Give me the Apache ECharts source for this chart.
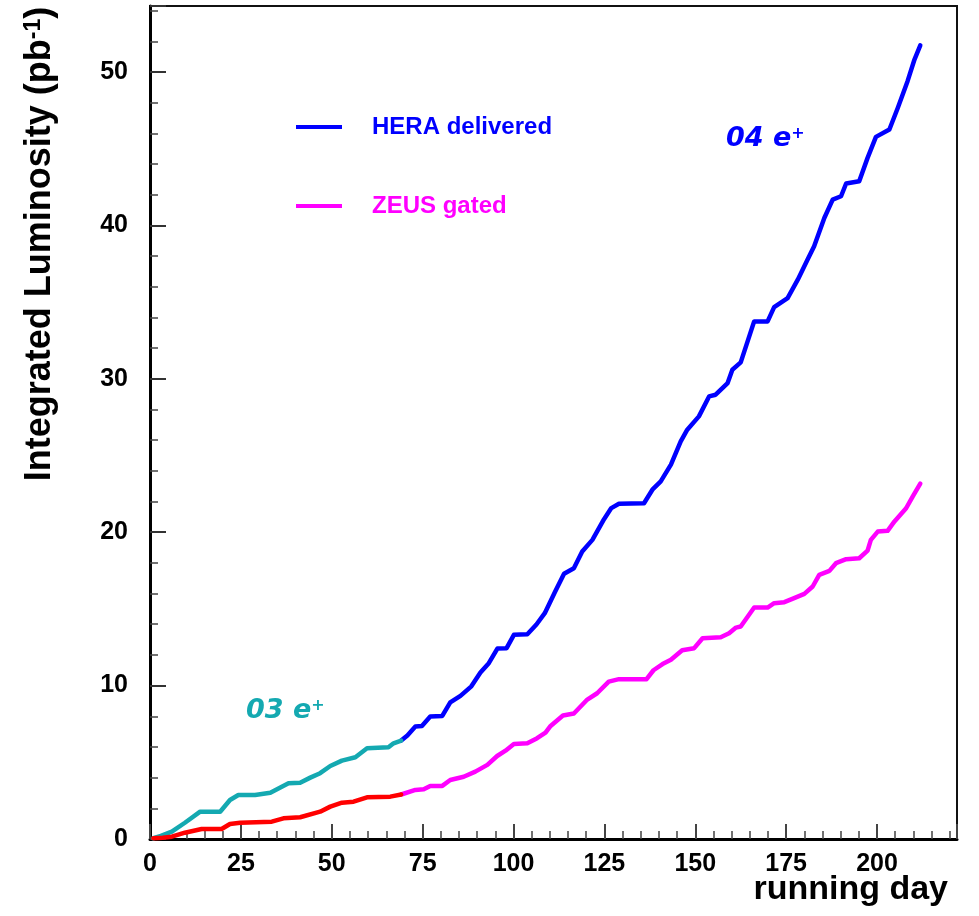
<!DOCTYPE html>
<html>
<head>
<meta charset="utf-8">
<title>Integrated Luminosity</title>
<script src="https://cdn.jsdelivr.net/npm/echarts@6/dist/echarts.min.js"></script>
<style>
  html, body { margin: 0; padding: 0; background: #fff; }
  #chart { width: 979px; height: 916px; }
</style>
</head>
<body>
<div id="chart"></div>
<script>
// HERA delivered luminosity, 2003 e+ running (days 0-69)
const heraDays03 = [0.9, 3.0, 6.0, 9.6, 13.8, 19.3, 22.0, 24.3, 28.9, 33.1, 38.1, 41.3, 44.1, 46.8, 49.6, 52.8, 56.5, 59.7, 65.6, 67.0, 69.1];
const hera03 = [0.05, 0.2, 0.48, 1.06, 1.78, 1.78, 2.54, 2.87, 2.87, 3.02, 3.63, 3.67, 4.0, 4.29, 4.76, 5.11, 5.33, 5.91, 5.98, 6.24, 6.42];

// HERA delivered luminosity, 2004 e+ running
const heraDays04 = [69.1, 70.8, 73.0, 74.8, 77.1, 80.4, 82.6, 85.4, 88.4, 90.9, 93.2, 95.6, 98.1, 100.1, 103.8, 106.3, 108.6, 111.4, 113.9, 116.6, 118.9, 121.7, 124.9, 126.9, 129.0, 135.9, 138.2, 140.5, 143.3, 146.0, 147.8, 151.0, 153.8, 155.6, 158.9, 160.2, 162.5, 166.2, 169.9, 171.7, 175.4, 178.2, 180.9, 182.7, 185.5, 187.8, 190.1, 191.5, 195.1, 197.4, 199.7, 203.4, 205.7, 208.4, 210.3, 211.9];
const hera04 = [6.42, 6.75, 7.33, 7.37, 7.98, 8.02, 8.9, 9.33, 9.95, 10.85, 11.46, 12.42, 12.44, 13.31, 13.35, 13.98, 14.72, 16.1, 17.29, 17.65, 18.74, 19.5, 20.85, 21.57, 21.85, 21.89, 22.77, 23.31, 24.4, 25.92, 26.68, 27.55, 28.85, 28.96, 29.72, 30.59, 31.07, 33.74, 33.74, 34.67, 35.26, 36.46, 37.77, 38.64, 40.48, 41.68, 41.9, 42.73, 42.88, 44.4, 45.77, 46.25, 47.65, 49.4, 50.81, 51.73];

// ZEUS gated luminosity, 2003 e+ running
const zeusDays03 = [0.9, 3.5, 6.0, 9.6, 14.2, 19.7, 22.0, 24.8, 33.5, 36.7, 41.3, 46.8, 49.6, 52.8, 56.0, 59.7, 66.1, 69.1];
const zeus03 = [0.05, 0.08, 0.15, 0.41, 0.65, 0.65, 0.98, 1.06, 1.13, 1.35, 1.42, 1.78, 2.11, 2.37, 2.43, 2.72, 2.76, 2.9];

// ZEUS gated luminosity, 2004 e+ running
const zeusDays04 = [69.1, 73.0, 75.3, 77.1, 80.4, 82.6, 86.3, 89.5, 92.8, 95.5, 97.8, 100.1, 103.8, 106.5, 108.8, 110.2, 113.6, 116.6, 120.3, 123.0, 126.2, 129.0, 136.6, 138.5, 141.0, 143.3, 146.4, 149.7, 152.0, 157.0, 159.3, 161.2, 162.5, 166.2, 169.9, 171.7, 174.5, 177.2, 180.0, 182.3, 184.1, 186.9, 188.7, 191.5, 195.1, 197.4, 198.3, 200.2, 202.9, 204.8, 208.0, 209.8, 211.9];
const zeus04 = [2.9, 3.2, 3.24, 3.46, 3.46, 3.85, 4.06, 4.39, 4.83, 5.41, 5.76, 6.2, 6.24, 6.57, 6.93, 7.37, 8.05, 8.18, 9.09, 9.5, 10.26, 10.42, 10.42, 11.0, 11.4, 11.68, 12.3, 12.44, 13.09, 13.15, 13.41, 13.78, 13.85, 15.09, 15.09, 15.37, 15.44, 15.7, 15.98, 16.46, 17.22, 17.48, 17.98, 18.24, 18.3, 18.8, 19.5, 20.04, 20.09, 20.7, 21.56, 22.32, 23.16];

const xTicks = { min: 0, max: 222, interval: 25 };
const yTicks = { min: 0, max: 54.3, interval: 10 };

const BLUE = '#0000ff';
const MAGENTA = '#ff00ff';
const RED = '#ff0000';
const TEAL = '#14a9b1';
const FONT = '"Liberation Sans", Arial, sans-serif';

const zip = (xs, ys) => xs.map((x, i) => [x, ys[i]]);

function lineSeries(name, days, values, color) {
  return {
    name: name,
    type: 'line',
    data: zip(days, values),
    symbol: 'none',
    smooth: false,
    color: color,
    lineStyle: { color: color, width: 4.5, join: 'round', cap: 'round' },
    z: 3,
    animation: false
  };
}

const chart = echarts.init(document.getElementById('chart'), null, { renderer: 'canvas' });

chart.setOption({
  animation: false,
  backgroundColor: '#fff',
  grid: {
    left: 150, right: 22, top: 6, bottom: 77,
    show: true, borderColor: '#111', borderWidth: 2, backgroundColor: 'transparent'
  },
  xAxis: {
    type: 'value',
    min: xTicks.min, max: xTicks.max, interval: xTicks.interval,
    axisLine: { show: true, onZero: false, lineStyle: { color: '#000', width: 3 } },
    axisTick: { show: true, inside: true, length: 15, lineStyle: { color: '#444', width: 2 } },
    minorTick: { show: true, splitNumber: 5, length: 8, lineStyle: { color: '#444', width: 1.5 } },
    splitLine: { show: false },
    axisLabel: {
      show: true, showMaxLabel: false, margin: 13,
      color: '#000', fontFamily: FONT, fontWeight: 'bold', fontSize: 25
    }
  },
  yAxis: {
    type: 'value',
    min: yTicks.min, max: yTicks.max, interval: yTicks.interval,
    axisLine: { show: true, onZero: false, lineStyle: { color: '#000', width: 3 } },
    axisTick: { show: true, inside: true, length: 16, lineStyle: { color: '#333', width: 2 } },
    minorTick: { show: true, splitNumber: 5, length: 8, lineStyle: { color: '#444', width: 1.5 } },
    splitLine: { show: false },
    axisLabel: {
      show: true, showMaxLabel: false, margin: 22,
      color: '#000', fontFamily: FONT, fontWeight: 'bold', fontSize: 25
    }
  },
  legend: {
    show: true,
    orient: 'vertical',
    left: 291, top: 110,
    icon: 'rect',
    itemWidth: 46, itemHeight: 4,
    itemGap: 55,
    selectedMode: false,
    textStyle: { fontFamily: FONT, fontWeight: 'bold', fontSize: 24, padding: [0, 0, 0, 25] },
    data: [
      { name: 'HERA delivered', textStyle: { color: BLUE } },
      { name: 'ZEUS gated', textStyle: { color: MAGENTA } }
    ]
  },
  series: [
    lineSeries('HERA delivered', heraDays04, hera04, BLUE),
    lineSeries('ZEUS gated', zeusDays04, zeus04, MAGENTA),
    lineSeries('HERA delivered 2003', heraDays03, hera03, TEAL),
    lineSeries('ZEUS gated 2003', zeusDays03, zeus03, RED)
  ],
  graphic: [
    {
      type: 'text',
      x: 40, y: 244,
      rotation: Math.PI / 2,
      style: {
        text: 'Integrated Luminosity (pb{sup|-1})',
        font: 'bold 36px ' + FONT,
        fill: '#000',
        align: 'center',
        verticalAlign: 'middle',
        rich: {
          sup: { fontSize: 23, fontWeight: 'bold', fontFamily: FONT, fill: '#000', verticalAlign: 'top' }
        }
      }
    },
    {
      type: 'text',
      x: 948, y: 890,
      style: {
        text: 'running day',
        font: 'bold 34px ' + FONT,
        fill: '#000',
        align: 'right',
        verticalAlign: 'middle'
      }
    },
    {
      type: 'text',
      x: 246, y: 711,
      style: {
        text: '03 e{sup|+}',
        font: 'italic bold 27px "DejaVu Sans", sans-serif',
        fill: TEAL,
        align: 'left',
        verticalAlign: 'middle',
        rich: {
          sup: { fontSize: 16, fontWeight: 'bold', fontFamily: '"DejaVu Sans", sans-serif', fill: TEAL, verticalAlign: 'top' }
        }
      }
    },
    {
      type: 'text',
      x: 726, y: 139,
      style: {
        text: '04 e{sup|+}',
        font: 'italic bold 27px "DejaVu Sans", sans-serif',
        fill: BLUE,
        align: 'left',
        verticalAlign: 'middle',
        rich: {
          sup: { fontSize: 16, fontWeight: 'bold', fontFamily: '"DejaVu Sans", sans-serif', fill: BLUE, verticalAlign: 'top' }
        }
      }
    }
  ]
});
</script>
</body>
</html>
